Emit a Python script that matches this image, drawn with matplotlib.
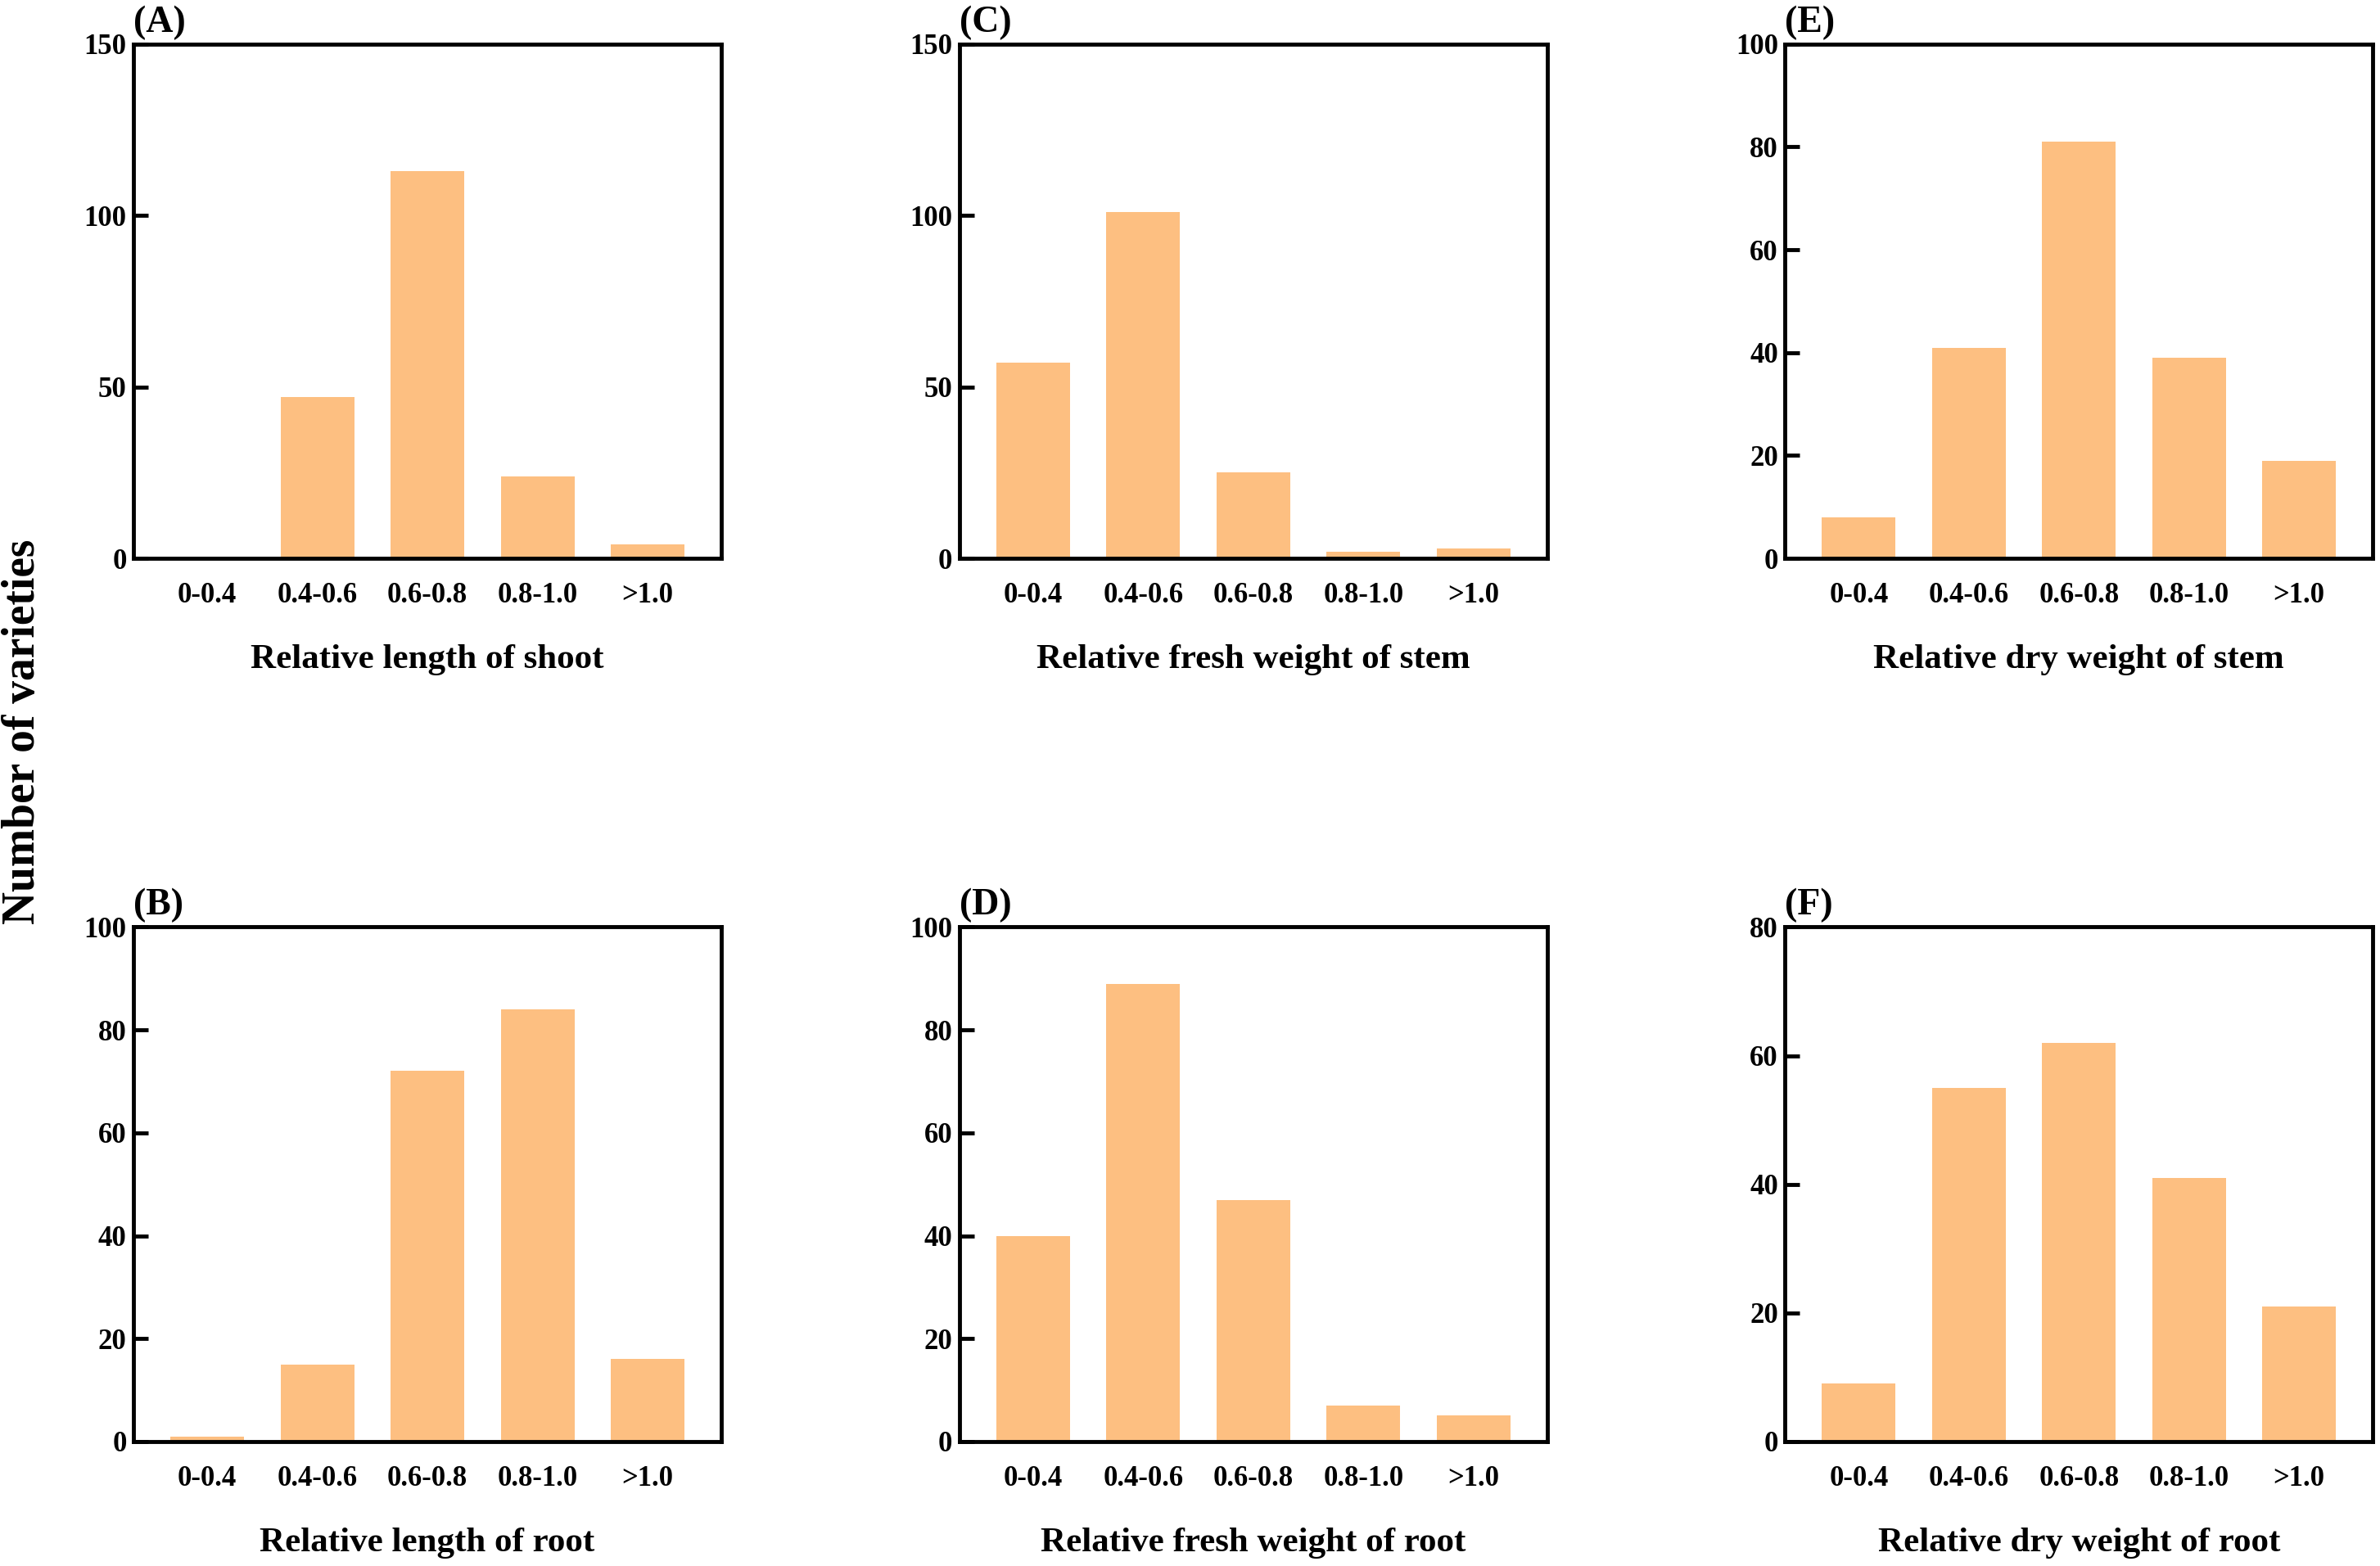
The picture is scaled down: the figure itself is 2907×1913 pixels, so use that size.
import matplotlib
matplotlib.use("Agg")
import matplotlib.pyplot as plt

plt.rcParams['font.family'] = ['Liberation Serif', 'DejaVu Serif']
plt.rcParams['font.weight'] = 'bold'

categories = ['0-0.4', '0.4-0.6', '0.6-0.8', '0.8-1.0', '>1.0']

shoot_length = [0, 47, 113, 24, 4]
root_length = [1, 15, 72, 84, 16]
stem_fresh = [57, 101, 25, 2, 3]
root_fresh = [40, 89, 47, 7, 5]
stem_dry = [8, 41, 81, 39, 19]
root_dry = [9, 55, 62, 41, 21]

panels = [
    # (label, values, xlabel, ymax, ystep, col, row)
    ('(A)', shoot_length, 'Relative length of shoot', 150, 50, 0, 0),
    ('(B)', root_length, 'Relative length of root', 100, 20, 0, 1),
    ('(C)', stem_fresh, 'Relative fresh weight of stem', 150, 50, 1, 0),
    ('(D)', root_fresh, 'Relative fresh weight of root', 100, 20, 1, 1),
    ('(E)', stem_dry, 'Relative dry weight of stem', 100, 20, 2, 0),
    ('(F)', root_dry, 'Relative dry weight of root', 80, 20, 2, 1),
]

bar_color = '#FDBF81'
col_left = [0.0561, 0.4031, 0.750]
row_bottom = [0.6434, 0.0795]
ax_w, ax_h = 0.247, 0.3285

fig = plt.figure(figsize=(29.07, 19.13), dpi=100)

for label, vals, xlab, ymax, ystep, c, r in panels:
    ax = fig.add_axes([col_left[c], row_bottom[r], ax_w, ax_h])
    x = range(len(categories))
    ax.bar(x, vals, width=0.67, color=bar_color, zorder=1)
    ax.set_xlim(-0.67, 4.67)
    ax.set_ylim(0, ymax)
    ax.set_yticks(range(0, ymax + 1, ystep))
    ax.set_xticks(list(x))
    ax.set_xticklabels(categories)
    for sp in ax.spines.values():
        sp.set_linewidth(3.5)
        sp.set_zorder(3)
    ax.tick_params(axis='y', direction='in', length=13, width=3.5, pad=6,
                   labelsize=25)
    ax.tick_params(axis='x', length=0, pad=21, labelsize=25)
    for t in ax.get_xticklabels() + ax.get_yticklabels():
        t.set_fontweight('bold')
    ax.set_xlabel(xlab, fontsize=31, fontweight='bold', labelpad=31)
    ax.text(0.0, 1.008, label, transform=ax.transAxes, ha='left', va='bottom',
            fontsize=33, fontweight='bold')

fig.text(0.0096, 0.533, 'Number of varieties', rotation=90, ha='center',
         va='center', fontsize=40, fontweight='bold')

fig.savefig('out.png', dpi=100)
